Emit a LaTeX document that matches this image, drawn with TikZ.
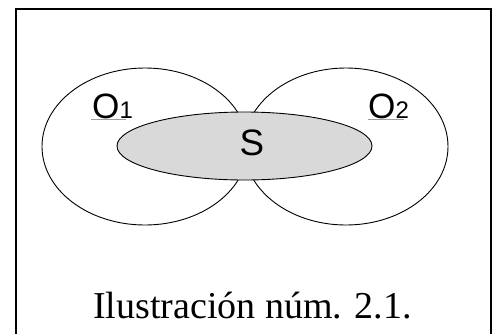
\documentclass[tikz,border=0pt]{standalone}
\usepackage{fontspec}
\setmainfont{Liberation Serif}
\newfontfamily\arialfont[Scale=1.6]{Liberation Sans}
\begin{document}
\begin{tikzpicture}[x=1pt,y=-1pt,
  outline/.style={draw=black,line width=0.9pt},
  lbl/.style={inner sep=0pt,anchor=base west},
  spell/.style={draw={rgb,255:red,240;green,120;blue,130},line width=0.8pt}]
\useasboundingbox (0,0) rectangle (493,333);
\fill[white] (0,0) rectangle (493,333);
% frame
\coordinate (fbl) at (16,334);
\coordinate (ftl) at (16,9);
\coordinate (ftr) at (491,9);
\coordinate (fbr) at (491,334);
\draw[line width=2pt] (fbl) -- (ftl) -- (ftr) -- (fbr);
% ellipses
\draw[outline] (145,146.5) ellipse [x radius=103, y radius=78.5];
\draw[outline] (346,146.5) ellipse [x radius=102, y radius=78.5];
\draw[outline,fill={rgb,255:red,217;green,217;blue,217}] (244.5,146) ellipse [x radius=127.5, y radius=34];
% labels
\node[lbl] (o1) at (92,118) {\arialfont\fontsize{22}{22}\selectfont O\fontsize{15}{15}\selectfont 1};
\node[lbl] (o2) at (368,118) {\arialfont\fontsize{22}{22}\selectfont O\fontsize{15}{15}\selectfont 2};
\node[inner sep=0pt,anchor=base,scale=0.92] (s) at (252,155) {\arialfont\fontsize{25}{25}\selectfont S};
\draw[spell] (o1.base west) ++(-1,1.5) coordinate (u1a) -- ++(35,0) coordinate (u1b);
\draw[spell] (o2.base west) ++(0,1.5) coordinate (u2a) -- ++(36,0) coordinate (u2b);
% caption
\node[font=\fontsize{38}{38}\selectfont,inner sep=0pt,anchor=base] (cap) at (252.5,318) {Ilustración núm. 2.1.};
\end{tikzpicture}
\end{document}
